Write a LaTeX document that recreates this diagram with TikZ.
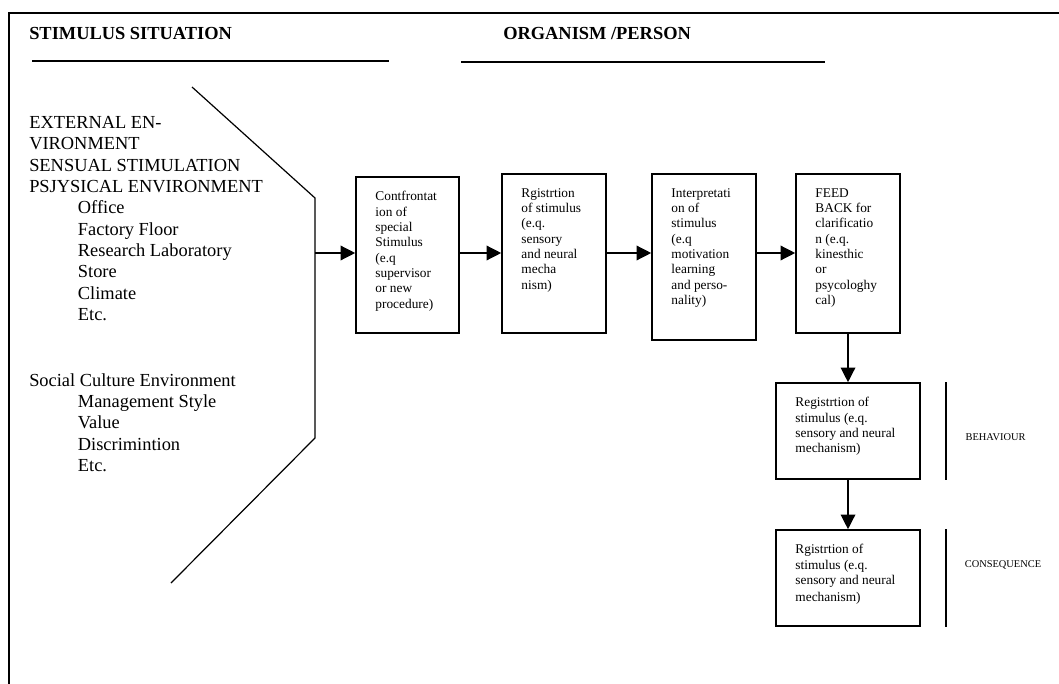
\documentclass[tikz,border=0pt]{standalone}
\usepackage{fontspec}
\setmainfont{Liberation Serif}
\usetikzlibrary{arrows.meta,calc,positioning}
\newcommand{\pxunit}{0.75pt}
\newcommand{\ind}{\hspace*{36.5pt}}
\tikzset{
    framesty/.style={line width=1.1pt},
    rulesty/.style={line width=1.1pt},
    polysty/.style={line width=0.9pt},
    headsty/.style={font=\fontsize{13.8}{16}\selectfont\bfseries, anchor=base west, inner sep=0pt},
    leftsty/.style={font=\fontsize{13.8}{16}\selectfont, anchor=north west, align=left, inner sep=0pt},
    boxsty/.style={draw, line width=1.2pt, rectangle, inner sep=0pt},
    txtsty/.style={font=\fontsize{10}{11.5}\selectfont, anchor=north west, align=left, inner sep=0pt},
    lblsty/.style={font=\fontsize{7.8}{9}\selectfont, inner sep=0pt},
    arrsty/.style={->, line width=1pt},
    barsty/.style={line width=1.1pt},
}

\begin{document}
\begin{tikzpicture}[x=\pxunit, y=-\pxunit, >={Triangle[length=11pt,width=11pt]}]
\useasboundingbox (0,0) rectangle (1059,684);

% frame
\draw[framesty] (9,684) -- (9,13) -- (1059,13);

% headings
\node[headsty] (hstim) at (29,40) {STIMULUS SITUATION};
\node[headsty] (horg) at (503,40) {ORGANISM /PERSON};
\draw[rulesty] (32,61) -- (389,61);
\draw[rulesty] (461,62) -- (825,62);

% stimulus situation
\coordinate (p1) at (192,87);
\coordinate (p2) at (315,198);
\coordinate (p3) at (315,438);
\coordinate (p4) at (171,583);
\coordinate (out) at (315,253);
\draw[polysty] (p1) -- (p2) -- (p3) -- (p4);

\node[leftsty] (env) at (29,116) {EXTERNAL EN-\\
VIRONMENT\\
SENSUAL STIMULATION\\
PSJYSICAL ENVIRONMENT\\
\ind Office\\
\ind Factory Floor\\
\ind Research Laboratory\\
\ind Store\\
\ind Climate\\
\ind Etc.};

\node[leftsty] (soc) at (29,373) {Social Culture Environment\\
\ind Management Style\\
\ind Value\\
\ind Discrimintion\\
\ind Etc.};

% organism / person
\node[boxsty, minimum width=103*\pxunit, minimum height=156*\pxunit] (conf) at (407.5,255) {};
\node[boxsty, minimum width=104*\pxunit, minimum height=159*\pxunit] (regi) at (554,253.5) {};
\node[boxsty, minimum width=104*\pxunit, minimum height=166*\pxunit] (intp) at (704,257) {};
\node[boxsty, minimum width=104*\pxunit, minimum height=159*\pxunit] (feed) at (848,253.5) {};
\node[boxsty, minimum width=144*\pxunit, minimum height=96*\pxunit] (behv) at (848,431) {};
\node[boxsty, minimum width=144*\pxunit, minimum height=96*\pxunit] (cons) at (848,578) {};

\node[txtsty] (tconf) at ([xshift=20*\pxunit,yshift=-15*\pxunit]conf.north west) {Contfrontat\\ ion of\\ special\\ Stimulus\\ (e.q\\ supervisor\\ or new\\ procedure)};
\node[txtsty] (tregi) at ([xshift=20*\pxunit,yshift=-15*\pxunit]regi.north west) {Rgistrtion\\ of stimulus\\ (e.q.\\ sensory\\ and neural\\ mecha\\ nism)};
\node[txtsty] (tintp) at ([xshift=20*\pxunit,yshift=-15*\pxunit]intp.north west) {Interpretati\\ on of\\ stimulus\\ (e.q\\ motivation\\ learning\\ and perso-\\ nality)};
\node[txtsty] (tfeed) at ([xshift=20*\pxunit,yshift=-15*\pxunit]feed.north west) {FEED\\ BACK for\\ clarificatio\\ n (e.q.\\ kinesthic\\ or\\ psycologhy\\ cal)};
\node[txtsty] (tbehv) at ([xshift=20*\pxunit,yshift=-15*\pxunit]behv.north west) {Registrtion of\\ stimulus (e.q.\\ sensory and neural\\ mechanism)};
\node[txtsty] (tcons) at ([xshift=20*\pxunit,yshift=-15*\pxunit]cons.north west) {Rgistrtion of\\ stimulus (e.q.\\ sensory and neural\\[1.5pt] mechanism)};

\draw[arrsty] (out) -- (out -| conf.west);
\draw[arrsty] (out -| conf.east) -- (out -| regi.west);
\draw[arrsty] (out -| regi.east) -- (out -| intp.west);
\draw[arrsty] (out -| intp.east) -- (out -| feed.west);
\draw[arrsty] (feed.south) -- (behv.north);
\draw[arrsty] (behv.south) -- (cons.north);

% side labels
\draw[barsty] ([xshift=25*\pxunit]behv.north east) -- ([xshift=25*\pxunit]behv.south east);
\draw[barsty] ([xshift=25*\pxunit]cons.north east) -- ([xshift=25*\pxunit]cons.south east);
\node[lblsty] (lbehv) at (995.5,437) {BEHAVIOUR};
\node[lblsty] (lcons) at (1003,565) {CONSEQUENCE};

\end{tikzpicture}
\end{document}
